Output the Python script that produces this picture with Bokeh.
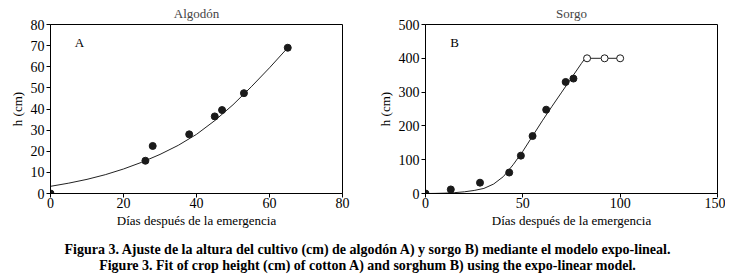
from bokeh.plotting import figure
from bokeh.layouts import column, row
from bokeh.models import Label, Div, FixedTicker
from bokeh.embed import file_html
from bokeh.resources import INLINE

# ---- data: cotton (Algodón) ----
cot_days = [0, 26, 28, 38, 45, 47, 53, 65]
cot_h = [0, 15.5, 22.5, 28, 36.5, 39.5, 47.5, 69]
cot_fit_days = [0, 5, 10, 15, 20, 25, 30, 35, 40, 45, 50, 55, 60, 65]
cot_fit_h = [3.4, 4.9, 6.7, 8.9, 11.6, 14.8, 18.5, 22.8, 28.0, 34.5, 42.0, 50.5, 59.5, 69.0]

# ---- data: sorghum (Sorgo) ----
sor_days = [0, 13, 28, 43, 49, 55, 62, 72, 76]
sor_h = [0, 12, 32, 62, 112, 170, 248, 330, 340]
sor_open_days = [83, 92, 100]
sor_open_h = [400, 400, 400]
sor_fit_days = [0, 5, 10, 15, 20, 25, 30, 35, 40, 45, 50, 55, 60, 65, 70, 75, 80, 82, 90, 100]
sor_fit_h = [0, 0.3, 1, 2.5, 5, 9, 15, 28, 50, 85, 125, 170, 215, 258, 300, 342, 384, 400, 400, 400]

cot_xticks = [0, 20, 40, 60, 80]
cot_yticks = [0, 10, 20, 30, 40, 50, 60, 70, 80]
sor_xticks = [0, 50, 100, 150]
sor_yticks = [0, 100, 200, 300, 400, 500]

FONT = "Liberation Serif"
XLABEL = "Días después de la emergencia"
YLABEL = "h (cm)"


def style(p, xticks, yticks):
    p.xgrid.visible = False
    p.ygrid.visible = False
    p.outline_line_color = "black"
    p.outline_line_width = 1
    p.outline_line_alpha = 1
    p.title.text_font = FONT
    p.title.text_font_style = "normal"
    p.title.text_font_size = "13px"
    p.title.align = "center"
    p.title.standoff = 7
    p.title.offset = 0
    for ax in (p.xaxis[0], p.yaxis[0]):
        ax.axis_line_color = "black"
        ax.major_tick_line_color = "black"
        ax.major_tick_out = 4
        ax.major_tick_in = 0
        ax.minor_tick_line_color = None
        ax.major_label_text_font = FONT
        ax.major_label_text_font_size = "14px"
        ax.major_label_text_color = "black"
        ax.axis_label_text_font = FONT
        ax.axis_label_text_font_size = "13px"
        ax.axis_label_text_font_style = "normal"
        ax.axis_label_text_color = "black"
        ax.major_label_standoff = 2
        ax.axis_label_standoff = 3
    p.xaxis[0].major_label_standoff = 0
    p.xaxis[0].axis_label_standoff = 2
    p.xaxis[0].ticker = FixedTicker(ticks=xticks)
    p.yaxis[0].ticker = FixedTicker(ticks=yticks)
    p.xaxis[0].axis_label = XLABEL
    p.yaxis[0].axis_label = YLABEL


p1 = figure(width=374, height=230, x_range=(0, 80), y_range=(0, 80),
            title="Algodón", output_backend="svg", toolbar_location=None,
            min_border_left=50, min_border_right=32, min_border_top=24,
            min_border_bottom=37)
style(p1, cot_xticks, cot_yticks)
p1.line(cot_fit_days, cot_fit_h, line_color="#222222", line_width=1)
p1.scatter(cot_days, cot_h, size=7, fill_color="#1a1a1a", line_color="#1a1a1a")
p1.add_layout(Label(x=7.9, y=71.6, text="A", text_font=FONT, text_font_size="13px",
                    text_align="center", text_baseline="middle", text_color="black"))

p2 = figure(width=351, height=230, x_range=(0, 150), y_range=(0, 500),
            title="Sorgo", output_backend="svg", toolbar_location=None,
            min_border_left=51, min_border_right=8, min_border_top=24,
            min_border_bottom=37)
style(p2, sor_xticks, sor_yticks)
p2.line(sor_fit_days, sor_fit_h, line_color="#222222", line_width=1)
p2.scatter(sor_days, sor_h, size=7, fill_color="#1a1a1a", line_color="#1a1a1a")
p2.scatter(sor_open_days, sor_open_h, size=7, fill_color="white", line_color="#1a1a1a")
p2.add_layout(Label(x=14.9, y=447, text="B", text_font=FONT, text_font_size="13px",
                    text_align="center", text_baseline="middle", text_color="black"))

caption = Div(
    text=("Figura 3. Ajuste de la altura del cultivo (cm) de algodón A) y sorgo B) mediante el modelo expo-lineal.<br>"
          "Figure 3. Fit of crop height (cm) of cotton A) and sorghum B) using the expo-linear model."),
    width=725, height=48,
    styles={"font-family": FONT, "font-weight": "bold", "font-size": "14px",
            "text-align": "center", "line-height": "16px", "color": "black",
            "width": "725px", "padding-top": "7px"})

layout = column(row(p1, p2, spacing=0), caption, spacing=0)

with open("out.html", "w") as f:
    f.write(file_html(layout, INLINE))
